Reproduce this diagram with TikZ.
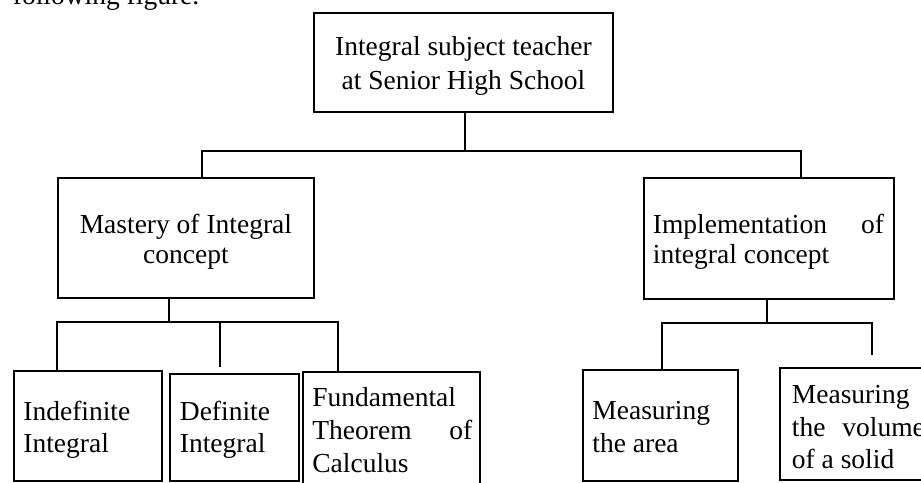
\documentclass[tikz,border=0pt]{standalone}
\usepackage{fontspec}
\setmainfont{Liberation Serif}
\newcommand\bxt[7]{\makebox[#1][l]{\hspace*{#3}\parbox[c][#2][t]{#4}{\fontsize{27.5pt}{#6}\selectfont\rule{0pt}{#5}#7}}}
\begin{document}
\begin{tikzpicture}[x=1pt,y=-1pt,
  bx/.style={draw,line width=1.8pt,inner sep=0pt,anchor=north west},
  ln/.style={line width=1.8pt}]
\useasboundingbox (0,0) rectangle (921,482);
\clip (0,0) rectangle (921,482);
\node[anchor=base west,inner sep=0pt,font=\fontsize{27.5pt}{33pt}\selectfont] (cap) at (12.7,4) {following figure.};
% boxes
\node[bx] (T) at (313,12) {\bxt{299pt}{99pt}{10pt}{279pt}{43pt}{34pt}{\centering Integral subject teacher\\at Senior High School}};
\node[bx] (M) at (57,177) {\bxt{256pt}{120pt}{10pt}{236pt}{56pt}{29.5pt}{\centering Mastery of Integral\\concept}};
\node[bx] (I) at (643,177) {\bxt{250pt}{121pt}{9pt}{231pt}{56pt}{29.5pt}{\makebox[\linewidth][s]{Implementation of}\\integral concept}};
\node[bx] (A) at (13,370) {\bxt{148pt}{110pt}{9.5pt}{128pt}{50pt}{31.7pt}{Indefinite\\Integral}};
\node[bx] (B) at (169,373) {\bxt{129pt}{107pt}{10pt}{109pt}{47pt}{31.7pt}{Definite\\Integral}};
\node[bx] (C) at (302,371) {\bxt{177pt}{140pt}{9.5pt}{160pt}{35pt}{33pt}{Fundamental\\\makebox[\linewidth][s]{Theorem of}\\Calculus}};
\node[bx] (D) at (582,369) {\bxt{155pt}{111pt}{9.5pt}{130pt}{49.3pt}{33.4pt}{Measuring\\the area}};
\node[bx] (E) at (779,367) {\bxt{155pt}{112pt}{12pt}{133pt}{36pt}{32.5pt}{Measuring\\\makebox[\linewidth][s]{the volume}\\of a solid}};
% top level connectors
\coordinate (tb) at (465,151);
\coordinate (mx) at (202,151);
\coordinate (ix) at (801,151);
\draw[ln] (T.south -| tb) -- (tb);
\draw[ln] (M.north -| mx) -- (mx) -- (ix) -- (I.north -| ix);
% left subtree
\coordinate (lm) at (169,322);
\coordinate (la) at (57,322);
\coordinate (lc) at (338,322);
\coordinate (lb) at (220,322);
\coordinate (lbe) at (220,367);
\draw[ln] (M.south -| lm) -- (lm);
\draw[ln] (A.north -| la) -- (la) -- (lc) -- (C.north -| lc);
\draw[ln] (lb) -- (lbe);
% right subtree
\coordinate (rm) at (767,323);
\coordinate (ra) at (662,323);
\coordinate (re) at (872,323);
\coordinate (ree) at (872,355);
\draw[ln] (I.south -| rm) -- (rm);
\draw[ln] (D.north -| ra) -- (ra) -- (re) -- (ree);
\end{tikzpicture}
\end{document}
